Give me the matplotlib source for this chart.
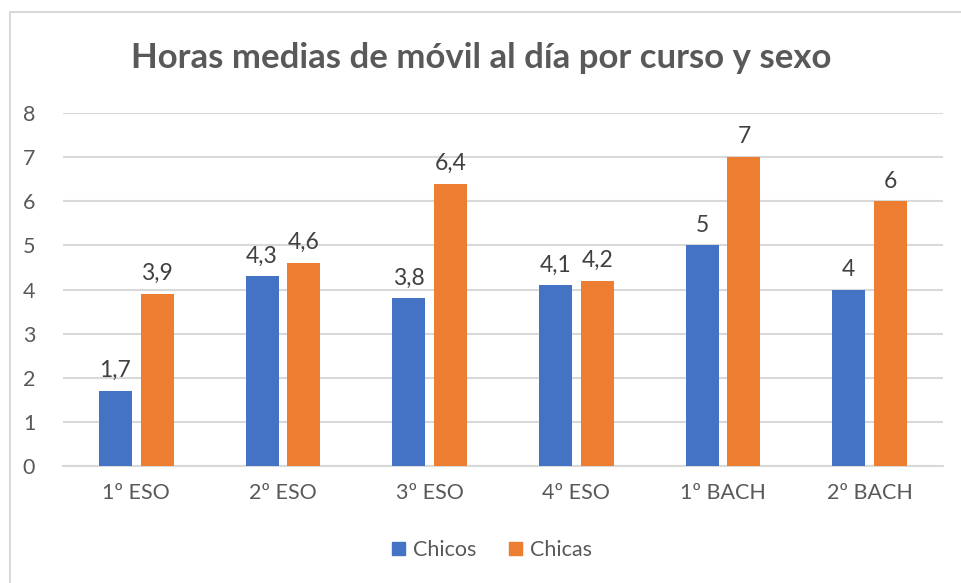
import numpy as np
import matplotlib.pyplot as plt
from matplotlib.patches import Rectangle, Patch

# data
cursos = ['1º ESO', '2º ESO', '3º ESO', '4º ESO', '1º BACH', '2º BACH']
chicos = [1.7, 4.3, 3.8, 4.1, 5, 4]
chicas = [3.9, 4.6, 6.4, 4.2, 7, 6]

azul = '#4472C4'
naranja = '#ED7D31'
gris = '#595959'

plt.rcParams['font.family'] = ['Lato', 'DejaVu Sans']

fig = plt.figure(figsize=(9.62, 5.83), dpi=100)
ax = fig.add_axes([63 / 962, 1 - 466 / 583, 880 / 962, 353 / 583])

# chart frame
fig.patches.append(Rectangle((10 / 962, -0.05), 1.1, 1 - 12 / 583 + 0.05,
                             transform=fig.transFigure, fill=False,
                             edgecolor='#D9D9D9', linewidth=1.5))

x = np.arange(len(cursos))
w = 0.225
off = 0.143
b1 = ax.bar(x - off, chicos, w, color=azul, zorder=3)
b2 = ax.bar(x + off, chicas, w, color=naranja, zorder=3)

def fmt(v):
    return ('%g' % v).replace('.', ',')

for bars, vals in ((b1, chicos), (b2, chicas)):
    for r, v in zip(bars, vals):
        ax.annotate(fmt(v), (r.get_x() + r.get_width() / 2, v),
                    xytext=(0, 7), textcoords='offset points',
                    ha='center', va='bottom', fontsize=16.5, color='#404040')

ax.set_xlim(-0.5, len(cursos) - 0.5)
ax.set_ylim(0, 8)
ax.set_yticks(range(0, 9))
ax.set_xticks(x)
ax.set_xticklabels(cursos)
ax.tick_params(axis='both', length=0, labelsize=15.5, labelcolor=gris)
ax.tick_params(axis='y', pad=20)
ax.tick_params(axis='x', pad=12)
ax.grid(axis='y', color='#D9D9D9', linewidth=1.5, zorder=0)
for s in ('top', 'right', 'left'):
    ax.spines[s].set_visible(False)
ax.spines['bottom'].set_color('#D9D9D9')
ax.spines['bottom'].set_linewidth(1.5)

fig.text(0.5, 1 - 58 / 583, 'Horas medias de móvil al día por curso y sexo',
         ha='center', va='center', fontsize=25, fontweight='bold', color=gris)

handles = [Patch(color=azul, label='Chicos'), Patch(color=naranja, label='Chicas')]
fig.legend(handles=handles, loc='center', bbox_to_anchor=(492 / 962, 1 - 550 / 583),
           ncol=2, frameon=False, fontsize=15.5, labelcolor=gris,
           handlelength=0.6, handleheight=0.6, handletextpad=0.4, columnspacing=1.5)

fig.savefig('out.png', dpi=100)
